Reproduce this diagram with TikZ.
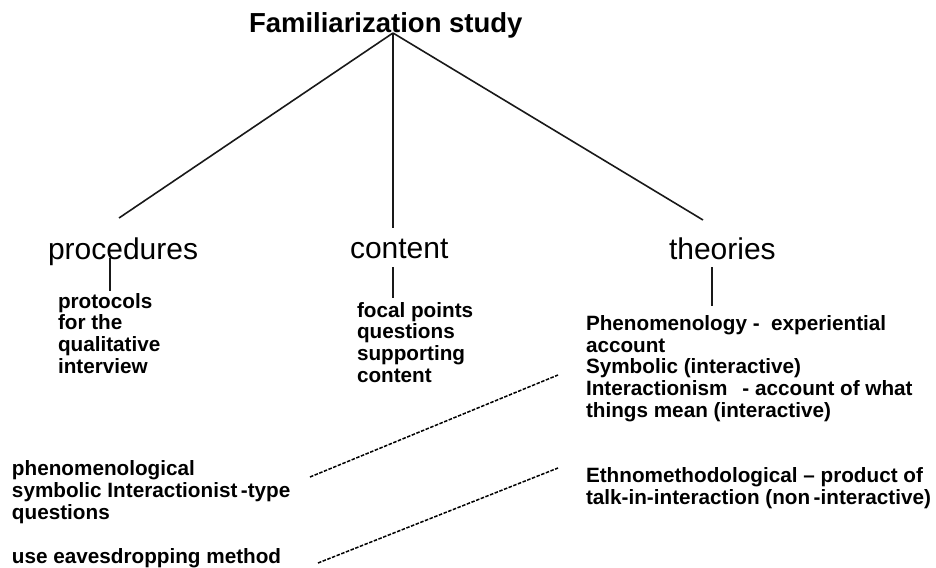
\documentclass[tikz,border=0pt]{standalone}
\usepackage{fontspec}
\setmainfont{Liberation Sans}
\begin{document}
\begin{tikzpicture}[x=1pt,y=-1pt,
  every node/.style={inner sep=0pt,outer sep=0pt,anchor=base west,align=left},
  titlefont/.style={font=\fontsize{27.5}{30}\selectfont\bfseries},
  headfont/.style={font=\fontsize{30}{32}\selectfont},
  smallfont/.style={font=\fontsize{20.7}{21.6}\selectfont\bfseries},
  tree/.style={line width=1.6pt,black!90},
  link/.style={line width=1.5pt,dash pattern=on 3.5pt off 1.5pt}]
\useasboundingbox (0,0) rectangle (936,567);
\node[titlefont] (title) at (249,33) {Familiarization study};
\node[headfont] (proc) at (48,259) {procedures};
\node[headfont] (cont) at (350,258) {content};
\node[headfont] (theo) at (669,259) {theories};
\node[smallfont] (proctext) at (58,373) {protocols\\for the\\qualitative\\interview};
\node[smallfont] (conttext) at (357,382) {focal points\\questions\\supporting\\content};
\node[smallfont] (theotext) at (586,417) {Phenomenology -\ \ experiential\\account\\Symbolic (interactive)\\Interactionism\ \ \,- account of what\\things mean (interactive)};
\node[smallfont] (ethno) at (586,504) {Ethnomethodological -- product of\\talk-in-interaction (non\,-interactive)};
\node[smallfont] (phen) at (12,519) {phenomenological\\symbolic Interactionist\,-type\\questions};
\node[smallfont] (eaves) at (12,563) {use eavesdropping method};
\coordinate (apex) at (393,33);
\coordinate (procTop) at (119,218);
\coordinate (contTop) at (393,228);
\coordinate (theoTop) at (703,220);
\draw[tree] (apex) -- (procTop);
\draw[tree] (apex) -- (contTop);
\draw[tree] (apex) -- (theoTop);
\coordinate (p1) at (110,258); \coordinate (p2) at (110,291);
\coordinate (c1) at (393,267); \coordinate (c2) at (393,298);
\coordinate (t1) at (712,267); \coordinate (t2) at (712,306);
\draw[tree] (p1) -- (p2);
\draw[tree] (c1) -- (c2);
\draw[tree] (t1) -- (t2);
\coordinate (d1a) at (310,477); \coordinate (d1b) at (558,375);
\coordinate (d2a) at (318,563); \coordinate (d2b) at (558,468);
\draw[link] (d1a) -- (d1b);
\draw[link] (d2a) -- (d2b);
\end{tikzpicture}
\end{document}
